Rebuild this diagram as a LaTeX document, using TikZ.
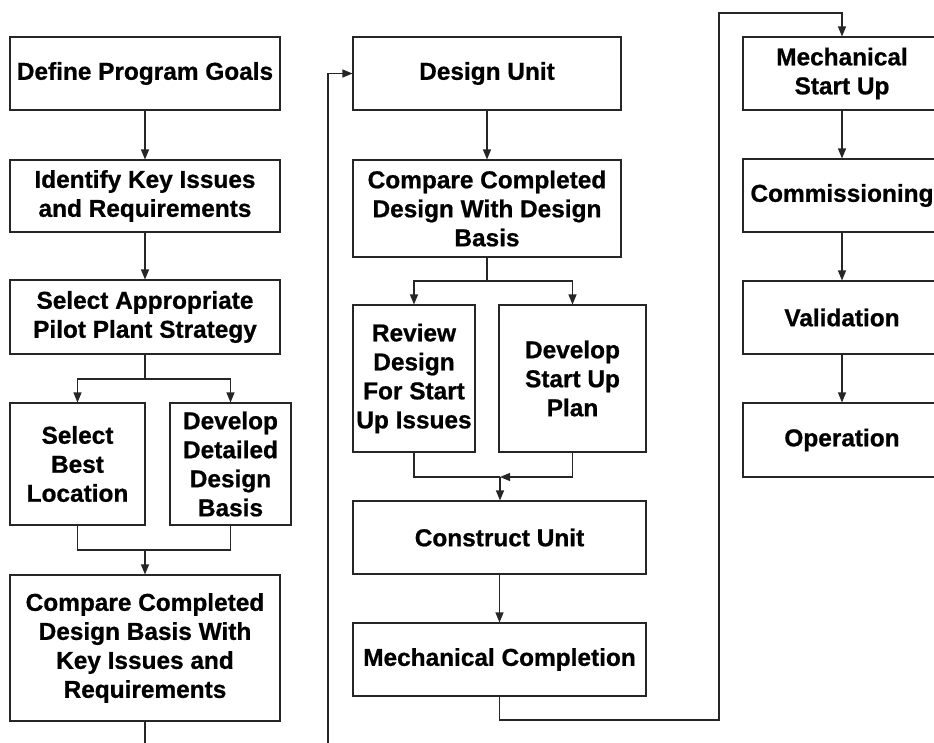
\documentclass[tikz,border=0pt]{standalone}
\usepackage{fontspec}
\setmainfont{Liberation Sans}[BoldFeatures={FakeBold=0.8}]
\usetikzlibrary{arrows.meta}
\tikzset{
  box/.style={draw=black!85, line width=1.1pt, rectangle, align=center, inner sep=0pt,
    font=\bfseries\fontsize{24.4}{29}\selectfont, text=black},
  conn/.style={draw=black!85, line width=1.1pt},
  arr/.style={conn, -{Triangle[length=10pt,width=8pt]}}
}
\begin{document}
\begin{tikzpicture}[x=1pt,y=-1pt]
\useasboundingbox (0,0) rectangle (934,742);
\clip (0,0) rectangle (934,742);
\fill[white] (0,0) rectangle (934,742);
% column 1
\node[box, minimum width=270, minimum height=73] (goals) at (145,73.5) {Define Program Goals};
\node[box, minimum width=270, minimum height=72] (issues) at (145,196) {Identify Key Issues\\and Requirements};
\node[box, minimum width=270, minimum height=74] (strategy) at (145,317) {Select Appropriate\\Pilot Plant Strategy};
\node[box, minimum width=135, minimum height=122] (location) at (77.5,464) {Select\\Best\\Location};
\node[box, minimum width=121, minimum height=122] (basis) at (230.5,464) {Develop\\Detailed\\Design\\Basis};
\node[box, minimum width=270, minimum height=146] (compare1) at (145,648) {Compare Completed\\Design Basis With\\Key Issues and\\Requirements};
% column 2
\node[box, minimum width=268, minimum height=73] (design) at (487,73.5) {Design Unit};
\node[box, minimum width=268, minimum height=97] (compare2) at (487,208.5) {Compare Completed\\Design With Design\\Basis};
\node[box, minimum width=122, minimum height=147] (review) at (414,378.5) {Review\\Design\\For Start\\Up Issues};
\node[box, minimum width=147, minimum height=147] (plan) at (572.5,378.5) {Develop\\Start Up\\Plan};
\node[box, minimum width=293, minimum height=73] (construct) at (499.5,537.5) {Construct Unit};
\node[box, minimum width=293, minimum height=73] (mcompl) at (499.5,659.5) {Mechanical Completion};
% column 3
\node[box, minimum width=198, minimum height=73] (msu) at (842,73.5) {Mechanical\\Start Up};
\node[box, minimum width=198, minimum height=73] (comm) at (842,195.5) {Commissioning};
\node[box, minimum width=198, minimum height=73] (valid) at (842,317.5) {Validation};
\node[box, minimum width=198, minimum height=74] (oper) at (842,440) {Operation};
% coordinates
\coordinate (s1) at (145,379);
\coordinate (m1) at (145,550);
\coordinate (out1) at (145,746);
\coordinate (in2) at (328,746);
\coordinate (s2) at (487,281);
\coordinate (m2) at (500,477);
\coordinate (c1) at (719,720);
\coordinate (c2) at (719,13);
% connectors column 1
\draw[arr] (goals) -- (issues);
\draw[arr] (issues) -- (strategy);
\draw[conn] (strategy.south) -- (s1);
\draw[arr] (s1) -| (location.north);
\draw[arr] (s1) -| (basis.north);
\draw[conn] (location.south) |- (m1) -| (basis.south);
\draw[arr] (m1) -- (compare1.north);
\draw[conn] (compare1.south) -- (out1);
% connectors column 2
\draw[arr] (in2) |- (design.west);
\draw[arr] (design) -- (compare2);
\draw[conn] (compare2.south) -- (s2);
\draw[arr] (s2) -| (review.north);
\draw[arr] (s2) -| (plan.north);
\draw[conn] (review.south) |- (m2);
\draw[arr] (plan.south) |- (m2);
\draw[arr] (m2) -- (m2 |- construct.north);
\draw[arr] (construct) -- (mcompl);
\draw[arr] (mcompl.south) |- (c1) -- (c2) -| (msu.north);
% connectors column 3
\draw[arr] (msu) -- (comm);
\draw[arr] (comm) -- (valid);
\draw[arr] (valid) -- (oper);
\end{tikzpicture}
\end{document}
